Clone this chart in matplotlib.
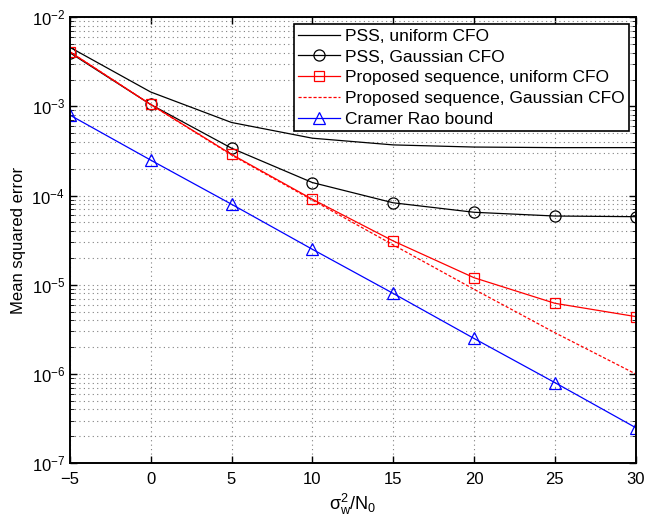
import numpy as np
import matplotlib.pyplot as plt
from matplotlib.ticker import LogLocator, NullFormatter

plt.rcParams['font.family'] = ['Liberation Sans', 'DejaVu Sans']
plt.rcParams['mathtext.fontset'] = 'custom'
plt.rcParams['mathtext.rm'] = 'Liberation Sans'
plt.rcParams['mathtext.it'] = 'Liberation Sans'

snr = [-5, 0, 5, 10, 15, 20, 25, 30]
pss_uniform = [4.6e-3, 1.45e-3, 6.6e-4, 4.4e-4, 3.7e-4, 3.5e-4, 3.45e-4, 3.45e-4]
pss_gauss = [4.0e-3, 1.05e-3, 3.4e-4, 1.4e-4, 8.3e-5, 6.5e-5, 5.9e-5, 5.8e-5]
prop_uniform = [4.1e-3, 1.05e-3, 2.9e-4, 9.1e-5, 3.1e-5, 1.2e-5, 6.2e-6, 4.4e-6]
prop_gauss = [4.1e-3, 1.05e-3, 2.85e-4, 8.9e-5, 2.8e-5, 8.9e-6, 2.9e-6, 1.0e-6]
crb = [8e-4, 2.5e-4, 8e-5, 2.5e-5, 8e-6, 2.5e-6, 8e-7, 2.5e-7]

labels = ['PSS, uniform CFO', 'PSS, Gaussian CFO', 'Proposed sequence, uniform CFO',
          'Proposed sequence, Gaussian CFO', 'Cramer Rao bound']

fig = plt.figure(figsize=(6.65, 5.21), dpi=100)
ax = fig.add_axes([0.105, 0.111, 0.851, 0.856])

ax.semilogy(snr, pss_uniform, 'k-', lw=0.9, label=labels[0])
ax.semilogy(snr, pss_gauss, 'k-o', lw=0.9, ms=8, mfc='none', mew=0.9, label=labels[1])
ax.semilogy(snr, prop_uniform, 'r-s', lw=0.9, ms=7, mfc='none', mew=0.9, label=labels[2])
ax.semilogy(snr, prop_gauss, 'r--', lw=0.9, dashes=(2.5, 1.5), label=labels[3])
ax.semilogy(snr, crb, 'b-^', lw=0.9, ms=8, mfc='none', mew=0.9, label=labels[4])

ax.set_xlim(-5, 30)
ax.set_ylim(1e-7, 1e-2)
ax.set_xticks(range(-5, 31, 5))
ax.yaxis.set_minor_locator(LogLocator(base=10, subs=np.arange(2, 10)))
ax.yaxis.set_minor_formatter(NullFormatter())
ax.tick_params(which='both', direction='in', top=True, right=True, labelsize=12)
ax.tick_params(which='major', length=5, width=1.0)
ax.tick_params(which='minor', length=3)
ax.tick_params(axis='x', pad=6)
gstyle = dict(ls=(0, (1, 3)), color='0.5', lw=0.8)
ax.grid(True, which='major', **gstyle)
ax.grid(True, which='minor', axis='y', **gstyle)
for s in ax.spines.values():
    s.set_linewidth(1.4)

ax.set_xlabel(r'$\sigma_w^2/N_0$', fontsize=13)
ax.set_ylabel('Mean squared error', fontsize=12)

leg = ax.legend(loc='upper right', fontsize=12.5, fancybox=False, framealpha=1,
                edgecolor='black', borderpad=0.25, labelspacing=0.33,
                handlelength=2.4, handletextpad=0.3, borderaxespad=0.4)
leg.get_frame().set_linewidth(1.2)

fig.savefig('out.png', dpi=100)
